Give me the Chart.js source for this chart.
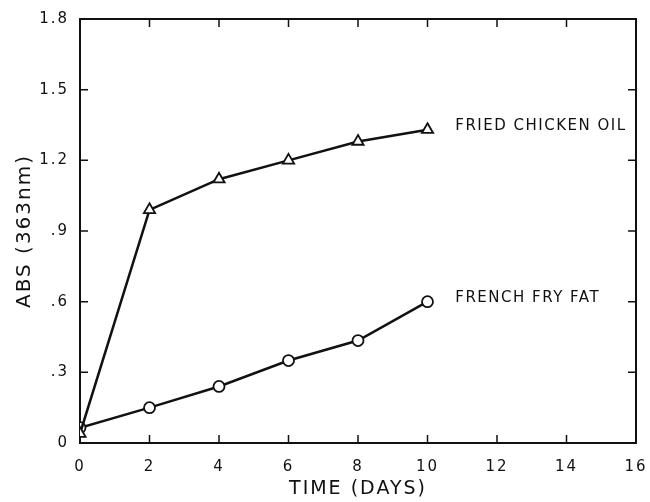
<!DOCTYPE html>
<html>
<head>
<meta charset="utf-8">
<script src="https://cdn.jsdelivr.net/npm/chart.js@4/dist/chart.umd.min.js"></script>
<style>
  html, body { margin: 0; padding: 0; background: #fff; }
  #wrap { width: 650px; height: 502px; }
</style>
</head>
<body>
<div id="wrap"><canvas id="chartId"></canvas></div>
<script>
// data
const days = [0, 2, 4, 6, 8, 10];
const chickenOil = [0.04, 0.99, 1.12, 1.20, 1.28, 1.33];
const frenchFryFat = [0.065, 0.15, 0.24, 0.35, 0.435, 0.60];
const seriesNames = ["FRIED CHICKEN OIL", "FRENCH FRY FAT"];
const xTicks = [0, 2, 4, 6, 8, 10, 12, 14, 16];
const yTicks = [0, 0.3, 0.6, 0.9, 1.2, 1.5, 1.8];

// where the series names sit, in data units
const labelSpots = [
  { x: 10.8, y: 1.345 },
  { x: 10.8, y: 0.615 }
];

const FONT = "'DejaVu Sans', sans-serif";
const SPACING = '2px';

function toPoints(xs, ys) {
  return xs.map((x, i) => ({ x: x, y: ys[i] }));
}

function yLabel(v) {
  if (Math.abs(v) < 1e-9) return "0";
  return v.toFixed(1).replace(/^0/, "");
}

// inward tick marks on all four sides + series names
const framePlugin = {
  id: 'frame',
  beforeLayout(chart) { chart.ctx.letterSpacing = SPACING; },
  beforeDraw(chart) { chart.ctx.letterSpacing = SPACING; },
  afterDraw(chart) {
    const ctx = chart.ctx;
    const a = chart.chartArea;
    const sx = chart.scales.x;
    const sy = chart.scales.y;
    const len = 8;
    ctx.save();
    ctx.strokeStyle = '#111';
    ctx.lineWidth = 1.5;
    ctx.beginPath();
    xTicks.forEach(v => {
      if (v === xTicks[0] || v === xTicks[xTicks.length - 1]) return;
      const px = sx.getPixelForValue(v);
      ctx.moveTo(px, a.bottom); ctx.lineTo(px, a.bottom - len);
      ctx.moveTo(px, a.top); ctx.lineTo(px, a.top + len);
    });
    yTicks.forEach(v => {
      if (v === yTicks[0] || v === yTicks[yTicks.length - 1]) return;
      const py = sy.getPixelForValue(v);
      ctx.moveTo(a.left, py); ctx.lineTo(a.left + len, py);
      ctx.moveTo(a.right, py); ctx.lineTo(a.right - len, py);
    });
    ctx.stroke();

    ctx.fillStyle = '#111';
    ctx.font = '15px ' + FONT;
    ctx.letterSpacing = '1.5px';
    ctx.textAlign = 'left';
    ctx.textBaseline = 'middle';
    seriesNames.forEach((name, i) => {
      const p = labelSpots[i];
      ctx.fillText(name, sx.getPixelForValue(p.x), sy.getPixelForValue(p.y));
    });
    ctx.restore();
  }
};

const commonLine = {
  borderColor: '#111',
  borderWidth: 2.5,
  pointBackgroundColor: '#fff',
  pointBorderColor: '#111',
  pointBorderWidth: 1.8,
  showLine: true,
  tension: 0
};

var chrt = document.getElementById("chartId").getContext("2d");

let chartConfig = {
  type: 'scatter',
  data: {
    datasets: [
      Object.assign({
        label: seriesNames[0],
        data: toPoints(days, chickenOil),
        pointStyle: 'triangle',
        pointRadius: 6.5
      }, commonLine),
      Object.assign({
        label: seriesNames[1],
        data: toPoints(days, frenchFryFat),
        pointStyle: 'circle',
        pointRadius: 5.5
      }, commonLine)
    ]
  },
  options: {
    responsive: true,
    maintainAspectRatio: false,
    animation: false,
    layout: { padding: { left: 0, right: 14, top: 19, bottom: 0 } },
    plugins: {
      legend: { display: false },
      tooltip: { enabled: false }
    },
    scales: {
      x: {
        type: 'linear',
        position: 'bottom',
        min: 0, max: 16,
        afterBuildTicks: s => { s.ticks = xTicks.map(v => ({ value: v })); },
        afterFit: s => { s.height = 59; s.paddingRight = 0; s.paddingLeft = 0; },
        grid: { display: false },
        border: { display: true, color: '#111', width: 2 },
        ticks: { color: '#111', padding: 7, maxRotation: 0, font: { family: FONT, size: 15 } },
        title: {
          display: true, text: 'TIME (DAYS)', color: '#111',
          font: { family: FONT, size: 19 }, padding: { top: 0, bottom: 2 }
        }
      },
      y: {
        type: 'linear',
        position: 'left',
        min: 0, max: 1.8,
        afterBuildTicks: s => { s.ticks = yTicks.map(v => ({ value: v })); },
        afterFit: s => { s.width = 80; },
        grid: { display: false },
        border: { display: true, color: '#111', width: 2 },
        ticks: { color: '#111', padding: 3, callback: v => yLabel(v), font: { family: FONT, size: 15 } },
        title: {
          display: true, text: 'ABS (363nm)', color: '#111',
          font: { family: FONT, size: 20 }, padding: { top: 13, bottom: 0 }
        }
      },
      x2: {
        type: 'linear', position: 'top', min: 0, max: 16,
        afterFit: s => { s.height = 0; },
        grid: { display: false },
        border: { display: true, color: '#111', width: 2 },
        ticks: { display: false }
      },
      y2: {
        type: 'linear', position: 'right', min: 0, max: 1.8,
        afterFit: s => { s.width = 0; },
        grid: { display: false },
        border: { display: true, color: '#111', width: 2 },
        ticks: { display: false }
      }
    }
  },
  plugins: [framePlugin]
};
window.lineChart = new Chart(chrt, chartConfig);
</script>
</body>
</html>
